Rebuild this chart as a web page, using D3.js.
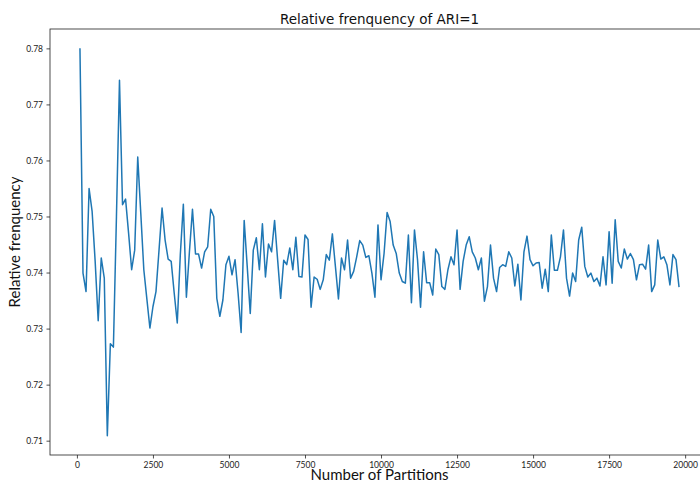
<!DOCTYPE html>
<html>
<head>
<meta charset="utf-8">
<script src="https://cdn.jsdelivr.net/npm/d3@7"></script>
<style>
  body { margin: 0; background: #fff; }
  svg { display: block; }
  .tick text { font-family: Lato, "Open Sans", sans-serif; font-size: 8.5px; fill: #222; }
  .tick line { stroke: #222; stroke-width: 0.8; }
  .domain { stroke: #222; stroke-width: 0.8; }
</style>
</head>
<body>
<div id="chart"></div>
<script>
// partitions: 100, 200, ... 19800
const partitionStep = 100;
const relFreq = [
  0.7800, 0.7399, 0.7366, 0.7550, 0.7509, 0.7420, 0.7314, 0.7426, 0.7390, 0.7109,
  0.7273, 0.7267, 0.7500, 0.7743, 0.7521, 0.7531, 0.7470, 0.7405, 0.7440, 0.7606,
  0.7506, 0.7405, 0.7353, 0.7301, 0.7339, 0.7366, 0.7440, 0.7515, 0.7458, 0.7424,
  0.7420, 0.7363, 0.7310, 0.7432, 0.7522, 0.7356, 0.7437, 0.7513, 0.7433, 0.7433,
  0.7408, 0.7437, 0.7446, 0.7513, 0.7500, 0.7354, 0.7322, 0.7351, 0.7414, 0.7429,
  0.7396, 0.7423, 0.7363, 0.7293, 0.7493, 0.7411, 0.7327, 0.7440, 0.7462, 0.7405,
  0.7487, 0.7392, 0.7451, 0.7437, 0.7493, 0.7423, 0.7354, 0.7422, 0.7414, 0.7444,
  0.7405, 0.7463, 0.7393, 0.7392, 0.7467, 0.7459, 0.7338, 0.7392, 0.7388, 0.7370,
  0.7387, 0.7432, 0.7422, 0.7469, 0.7411, 0.7353, 0.7426, 0.7405, 0.7458, 0.7390,
  0.7402, 0.7428, 0.7457, 0.7449, 0.7427, 0.7430, 0.7399, 0.7356, 0.7485, 0.7387,
  0.7434, 0.7507, 0.7491, 0.7449, 0.7434, 0.7399, 0.7384, 0.7381, 0.7467, 0.7346,
  0.7476, 0.7423, 0.7338, 0.7437, 0.7382, 0.7382, 0.7360, 0.7442, 0.7432, 0.7375,
  0.7370, 0.7405, 0.7428, 0.7414, 0.7476, 0.7370, 0.7420, 0.7449, 0.7464, 0.7437,
  0.7426, 0.7405, 0.7426, 0.7349, 0.7375, 0.7449, 0.7390, 0.7366, 0.7409, 0.7414,
  0.7411, 0.7437, 0.7426, 0.7376, 0.7415, 0.7351, 0.7437, 0.7465, 0.7423, 0.7412,
  0.7417, 0.7418, 0.7372, 0.7406, 0.7366, 0.7467, 0.7404, 0.7404, 0.7428, 0.7476,
  0.7390, 0.7358, 0.7399, 0.7384, 0.7458, 0.7481, 0.7411, 0.7392, 0.7399, 0.7384,
  0.7390, 0.7376, 0.7428, 0.7378, 0.7473, 0.7381, 0.7494, 0.7420, 0.7408, 0.7442,
  0.7424, 0.7434, 0.7423, 0.7387, 0.7414, 0.7415, 0.7406, 0.7449, 0.7366, 0.7378,
  0.7458, 0.7424, 0.7428, 0.7414, 0.7378, 0.7432, 0.7423, 0.7374
];
const xTicks = [0, 2500, 5000, 7500, 10000, 12500, 15000, 17500, 20000];
const yTicks = [0.71, 0.72, 0.73, 0.74, 0.75, 0.76, 0.77, 0.78];

const titleText = "Relative frenquency of ARI=1";
const xLabel = "Number of Partitions";
const yLabel = "Relative frenquency";

const width = 700, height = 481;
const margin = {top: 29, right: -9, bottom: 26, left: 50};

let data = relFreq.map((v, i) => ({x: (i + 1) * partitionStep, y: v}));

// matplotlib-like 5% margins
let pad = function(ext){
  let d = (ext[1] - ext[0]) * 0.05;
  return [ext[0] - d, ext[1] + d];
};

let x = d3.scaleLinear()
  .domain(pad(d3.extent(data, d => d.x)))
  .range([margin.left, width - margin.right]);
let y = d3.scaleLinear()
  .domain(pad(d3.extent(data, d => d.y)))
  .range([height - margin.bottom, margin.top]);

let svg = d3.select("#chart").append("svg")
  .attr("width", width)
  .attr("height", height);

// line
let line = d3.line().x(d => x(d.x)).y(d => y(d.y));
svg.append("path")
  .datum(data)
  .attr("fill", "none")
  .attr("stroke", "#1f77b4")
  .attr("stroke-width", 1.5)
  .attr("stroke-linejoin", "round")
  .attr("d", line);

// frame
svg.append("rect")
  .attr("x", margin.left)
  .attr("y", margin.top)
  .attr("width", width - margin.right - margin.left)
  .attr("height", height - margin.bottom - margin.top)
  .attr("fill", "none")
  .attr("stroke", "#222")
  .attr("stroke-width", 0.8);

// axes
svg.append("g")
  .attr("transform", `translate(0,${height - margin.bottom})`)
  .call(d3.axisBottom(x).tickValues(xTicks).tickFormat(d3.format("d")).tickSize(3.5).tickPadding(3.5))
  .call(g => g.select(".domain").remove());

svg.append("g")
  .attr("transform", `translate(${margin.left},0)`)
  .call(d3.axisLeft(y).tickValues(yTicks).tickFormat(d3.format(".2f")).tickSize(3.5).tickPadding(3.5))
  .call(g => g.select(".domain").remove());

// texts
let cx = (margin.left + width - margin.right) / 2;
let cy = (margin.top + height - margin.bottom) / 2;

svg.append("text")
  .attr("x", cx)
  .attr("y", 23.5)
  .attr("text-anchor", "middle")
  .style("font-family", "DejaVu Sans")
  .style("font-size", "13.5px")
  .style("fill", "#111")
  .text(titleText);

svg.append("text")
  .attr("x", cx)
  .attr("y", 480)
  .attr("text-anchor", "middle")
  .style("font-family", "Lato, 'Open Sans', sans-serif")
  .style("font-size", "15px")
  .style("fill", "#111")
  .text(xLabel);

svg.append("text")
  .attr("transform", `translate(20,${cy}) rotate(-90)`)
  .attr("text-anchor", "middle")
  .style("font-family", "Lato, 'Open Sans', sans-serif")
  .style("font-size", "15px")
  .style("fill", "#111")
  .text(yLabel);
</script>
</body>
</html>
